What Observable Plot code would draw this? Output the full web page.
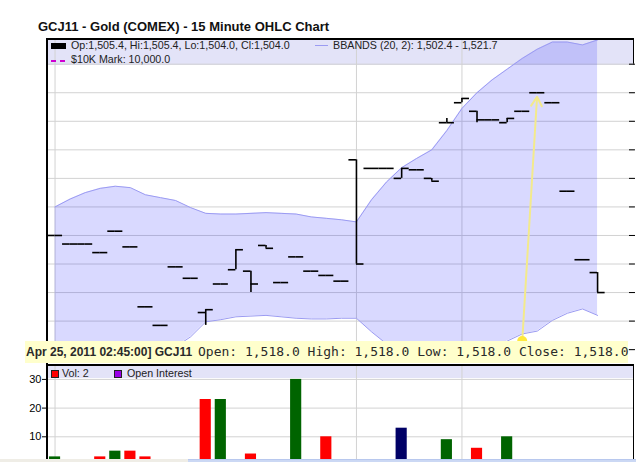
<!DOCTYPE html>
<html>
<head>
<meta charset="utf-8">
<script src="https://cdn.jsdelivr.net/npm/d3@7"></script>
<script src="https://cdn.jsdelivr.net/npm/@observablehq/plot@0.6"></script>
<style>
  html, body { margin: 0; padding: 0; background: #fff; overflow: hidden; }
  #chart { position: relative; width: 636px; height: 462px; overflow: hidden; font-family: "Liberation Sans", Arial, sans-serif; color: #222; }
  #chart > * { position: absolute; }
  .t { white-space: nowrap; font-size: 10.7px; line-height: 11px; }
  #title { left: 38px; top: 19px; font: bold 13px/15px "Liberation Sans", Arial, sans-serif; color: #111; white-space: nowrap; }
  .panel { box-sizing: content-box; }
  .sw { position: absolute; }
  #tip { left: 25px; width: 603px; height: 22px; background: #ffffcc; }
  #tip .b { position: absolute; left: 1px; top: 4px; font: bold 12px/14px "Liberation Sans", Arial, sans-serif; color: #2a2a2a; white-space: nowrap; }
  #tip .m { position: absolute; left: 173px; top: 4px; font: 13px/14px "DejaVu Sans Mono", monospace; color: #2a2a2a; white-space: nowrap; }
</style>
</head>
<body>
<div id="chart"></div>
<script>
// GCJ11 gold futures, 15-minute bars (Apr 24-25, 2011)
const symbol = "GCJ11";
const chartTitle = "GCJ11 - Gold (COMEX) - 15 Minute OHLC Chart";

const open  = [1508.0, 1507.4, 1507.4, 1506.8, 1508.3, 1507.2, 1503.0, 1501.7, 1505.8, 1505.0,
               1502.6, 1504.6, 1505.6, 1505.5, 1507.3, 1504.7, 1506.5, 1505.5, 1505.2, 1504.8,
               1513.3, 1512.7, 1512.7, 1512.0, 1512.6, 1512.0, 1515.9, 1517.3, 1516.7, 1516.1,
               1515.9, 1516.7, 1518.0, 1517.3, 1511.1, 1506.3, 1505.4];
const high  = [1508.0, 1507.4, 1507.4, 1506.8, 1508.3, 1507.2, 1503.0, 1501.7, 1505.8, 1505.0,
               1502.8, 1504.6, 1507.0, 1505.5, 1507.3, 1504.7, 1506.5, 1505.5, 1505.2, 1504.8,
               1513.3, 1512.7, 1512.7, 1512.7, 1512.6, 1512.0, 1516.2, 1517.6, 1516.7, 1516.1,
               1516.2, 1516.7, 1518.0, 1517.3, 1511.1, 1506.3, 1505.4];
const low   = [1508.0, 1507.4, 1507.4, 1506.8, 1508.3, 1507.2, 1503.0, 1501.7, 1505.8, 1505.0,
               1501.7, 1504.6, 1505.6, 1504.0, 1507.1, 1504.7, 1506.5, 1505.5, 1505.2, 1504.8,
               1506.0, 1512.7, 1512.7, 1512.0, 1512.6, 1511.8, 1515.9, 1517.3, 1515.9, 1516.1,
               1515.9, 1516.7, 1518.0, 1517.3, 1511.1, 1506.3, 1504.0];
const close = [1508.0, 1507.4, 1507.4, 1506.8, 1508.3, 1507.2, 1503.0, 1501.7, 1505.8, 1505.0,
               1502.8, 1504.6, 1507.0, 1504.6, 1507.1, 1504.7, 1506.5, 1505.5, 1505.2, 1504.8,
               1506.0, 1512.7, 1512.7, 1512.7, 1512.6, 1511.8, 1515.9, 1517.6, 1516.1, 1516.1,
               1516.2, 1516.7, 1518.0, 1517.3, 1511.1, 1506.3, 1504.0];

// Bollinger bands (20, 2)
const bandUpper = [1510.0, 1510.55, 1511.0, 1511.3, 1511.45, 1511.35, 1510.85, 1510.65, 1510.45, 1509.95,
                   1509.55, 1509.5, 1509.5, 1509.55, 1509.6, 1509.55, 1509.5, 1509.3, 1509.2, 1509.1,
                   1508.95, 1510.5, 1511.75, 1512.75, 1513.4, 1514.0, 1515.35, 1516.9, 1518.0, 1518.9,
                   1519.65, 1520.4, 1521.05, 1521.55, 1521.55, 1521.35, 1521.7];
const bandLower = [1500.0, 1499.8, 1499.6, 1499.5, 1499.4, 1499.5, 1499.6, 1499.9, 1500.2, 1500.9,
                   1501.95, 1502.1, 1502.3, 1502.35, 1502.4, 1502.3, 1502.2, 1502.15, 1502.15, 1502.2,
                   1502.2, 1501.25, 1500.4, 1499.8, 1499.3, 1499.0, 1498.9, 1499.0, 1499.3, 1499.9,
                   1500.6, 1501.1, 1501.3, 1502.05, 1502.55, 1502.85, 1502.4];

// Volume (bar index, contracts, direction of the close)
const volumeBar  = [0, 3, 4, 5, 6, 10, 11, 13, 16, 18, 23, 26, 28, 30, 36];
const volume     = [3, 3, 5, 5, 3, 23, 23, 4, 30, 10, 13, 9, 6, 10, 2];
const volumeTone = ["up", "down", "up", "down", "down", "down", "up", "down", "up", "down", "flat", "up", "down", "up", "down"];

const priceTicks  = d3.range(1500, 1522, 2);
const volumeTicks = [10, 20, 30];
const sessionBreaks = [0, 20, 27];
const tenKMark = 10000;

// Highlighted bar and its callout
const callout = {bar: 32, stamp: "Apr 25, 2011 02:45:00", anchorBar: 31, anchorPrice: 1500.6};

const fmt = d3.format(",.1f");
const bars = open.map((o, i) => ({i, open: o, high: high[i], low: low[i], close: close[i], upper: bandUpper[i], lower: bandLower[i]}));
const vols = volumeBar.map((b, k) => ({i: b, v: volume[k], tone: volumeTone[k]}));
const last = bars[bars.length - 1];

const xDomain = [-0.5, 38.45];
const font = {fontFamily: "Liberation Sans, Arial, sans-serif", fontSize: "11px", background: "transparent", color: "#000"};
const ink = "#000";

const price = Plot.plot({
  width: 636, height: 365,
  marginTop: 38, marginBottom: 3, marginLeft: 47, marginRight: 2,
  style: font,
  x: {domain: xDomain, axis: null},
  y: {domain: [1499.1, 1521.8], axis: null},
  marks: [
    Plot.ruleY(priceTicks, {stroke: "#d2d2d2"}),
    Plot.ruleX(sessionBreaks, {stroke: "#d2d2d2"}),
    Plot.areaY(bars, {x: "i", y1: "lower", y2: "upper", fill: "#0000ff", fillOpacity: 0.15, clip: true}),
    Plot.lineY(bars, {x: "i", y: "upper", stroke: "#9b9bf2", strokeWidth: 1, clip: true}),
    Plot.lineY(bars, {x: "i", y: "lower", stroke: "#9b9bf2", strokeWidth: 1, clip: true}),
    Plot.ruleX(bars, {x: "i", y1: "low", y2: "high", stroke: ink, strokeWidth: 1.6}),
    Plot.ruleY(bars, {y: "open", x1: d => d.i - 0.5, x2: "i", stroke: ink, strokeWidth: 1.6}),
    Plot.ruleY(bars, {y: "close", x1: "i", x2: d => d.i + 0.5, stroke: ink, strokeWidth: 1.6}),
    Plot.axisY(priceTicks, {anchor: "right", tickSize: 6, dx: -6, tickFormat: () => "", label: null, stroke: ink}),
    Plot.arrow([callout], {
      x1: "anchorBar", y1: "anchorPrice",
      x2: "bar", y2: d => close[d.bar],
      stroke: "#f3ea8c", strokeWidth: 2, headLength: 8, insetEnd: 4
    }),
    Plot.dot([callout], {x: "anchorBar", y: "anchorPrice", r: 5, fill: "#ffe83d"})
  ]
});

const vol = Plot.plot({
  width: 636, height: 100,
  marginTop: 1, marginBottom: 0, marginLeft: 47, marginRight: 2,
  style: font,
  x: {domain: xDomain, axis: null},
  y: {domain: [0, 34.5], axis: null},
  color: {type: "ordinal", domain: ["up", "down", "flat"], range: ["#006400", "#ff0000", "#000066"]},
  marks: [
    Plot.ruleY(volumeTicks, {stroke: "#d2d2d2"}),
    Plot.ruleX(sessionBreaks, {stroke: "#d2d2d2"}),
    Plot.rectY(vols, {x1: d => d.i - 0.37, x2: d => d.i + 0.37, y: "v", fill: "tone"}),
    Plot.axisY(volumeTicks, {anchor: "left", tickSize: 5, tickPadding: 1, label: null, fontSize: 11, stroke: ink, fill: ink})
  ]
});

const root = document.getElementById("chart");
const add = (html) => { root.insertAdjacentHTML("beforeend", html); return root.lastElementChild; };

// Legend backgrounds sit beneath the transparent plots
add(`<div style="left:48px;top:40px;width:585px;height:25px;background:#e3e3f8;border-right:1px solid #000"></div>`);
add(`<div style="left:48px;top:366px;width:585px;height:12px;background:#e3e3f8"></div>`);

price.style.position = "absolute"; price.style.left = "0px"; price.style.top = "0px";
root.appendChild(price);
vol.style.position = "absolute"; vol.style.left = "0px"; vol.style.top = "365px";
root.appendChild(vol);

// Panel frames
add(`<div class="panel" style="left:46px;top:38px;width:586px;height:326px;border-left:2px solid #000;border-top:2px solid #000"></div>`);
add(`<div class="panel" style="left:46px;top:364px;width:585px;height:110px;border-left:2px solid #000;border-top:2px solid #000;border-right:1px solid #000"></div>`);

add(`<div id="title">${chartTitle}</div>`);

// Price legend
add(`<div class="sw" style="left:51px;top:43px;width:15px;height:6px;background:#000"></div>`);
add(`<div class="t" style="left:71px;top:40px">Op:${fmt(last.open)}, Hi:${fmt(last.high)}, Lo:${fmt(last.low)}, Cl:${fmt(last.close)}</div>`);
add(`<div class="sw" style="left:51px;top:60px;width:15px;height:2px;background:repeating-linear-gradient(to right,#d000d0 0 5px,transparent 5px 9px)"></div>`);
add(`<div class="t" style="left:71px;top:54px">$10K Mark: ${fmt(tenKMark)}</div>`);
add(`<div class="sw" style="left:315px;top:45px;width:13px;height:1px;background:#9b9bf2"></div>`);
add(`<div class="t" style="left:333px;top:40px">BBANDS (20, 2): ${fmt(last.lower)} - ${fmt(last.upper)}</div>`);

// Volume legend
add(`<div class="sw" style="left:51px;top:370px;width:6px;height:6px;background:#ff0000;border:1px solid #222"></div>`);
add(`<div class="t" style="left:62px;top:368px">Vol: ${volume[volume.length - 1]}</div>`);
add(`<div class="sw" style="left:114px;top:370px;width:6px;height:6px;background:#9a00e6;border:1px solid #222"></div>`);
add(`<div class="t" style="left:127px;top:368px">Open Interest</div>`);

// Callout for the highlighted bar
const b = bars[callout.bar];
const tipTop = Math.round(price.scale("y").apply(callout.anchorPrice));
add(`<div id="tip" style="top:${tipTop}px"><span class="b">${callout.stamp}] ${symbol}</span><span class="m">Open: ${fmt(b.open)} High: ${fmt(b.high)} Low: ${fmt(b.low)} Close: ${fmt(b.close)}</span></div>`);

// Navigator strip along the bottom edge
add(`<div style="left:0;top:459px;width:188px;height:3px;background:#efede6"></div>`);
add(`<div style="left:188px;top:459px;width:448px;height:3px;background:#cbd8f4;border-top:1px solid #b8c8ee;box-sizing:border-box"></div>`);
</script>
</body>
</html>
